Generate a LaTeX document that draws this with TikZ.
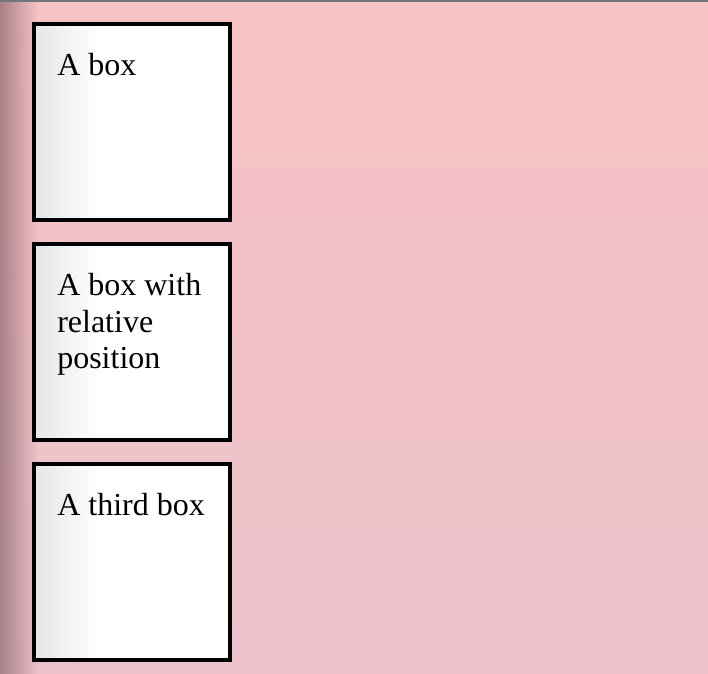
\documentclass[tikz,border=0pt]{standalone}
\usepackage{fontspec}
\setmainfont{Liberation Serif}
\usetikzlibrary{calc,fadings,backgrounds}
\definecolor{PinkTop}{RGB}{247,195,196}
\definecolor{PinkBot}{RGB}{236,193,203}
\definecolor{DGray}{HTML}{70767B}
\definecolor{Shadow}{RGB}{110,75,85}
\definecolor{LGray}{RGB}{230,230,230}
\tikzfading[name=edgefade, left color=transparent!45, right color=transparent!100]
\tikzset{
    boxframe/.style={draw=black, line width=3pt},
    boxtext/.style={anchor=north west, inner sep=0pt, align=left,
        font=\fontsize{24}{27.4}\selectfont}
}
\NewDocumentCommand{\TextBox}{O{(0,0)} m m}{
    \begin{scope}[shift={#1}]
    \fill[white] (2,2) rectangle (198,198);
    \shade[left color=LGray, right color=white] (2,2) rectangle (68,198);
    \draw[boxframe] (2,2) rectangle (198,198);
    \node[boxtext] (#2) at (25,31) {#3};
    \end{scope}
}

\begin{document}
\begin{tikzpicture}[x=0.75pt, y=-0.75pt]
\useasboundingbox (0,0) rectangle (708,674);
% page
\shade[top color=PinkTop, bottom color=PinkBot] (0,0) rectangle (708,674);
\fill[Shadow, path fading=edgefade, fit fading=true] (0,0) rectangle (38,674);
\fill[DGray] (0,0) rectangle (708,2);

\TextBox[(32,22)]{first}{A box}
\TextBox[(32,242)]{second}{A box with\\relative\\position}
\TextBox[(32,462)]{third}{A third box}

\end{tikzpicture}
\end{document}
